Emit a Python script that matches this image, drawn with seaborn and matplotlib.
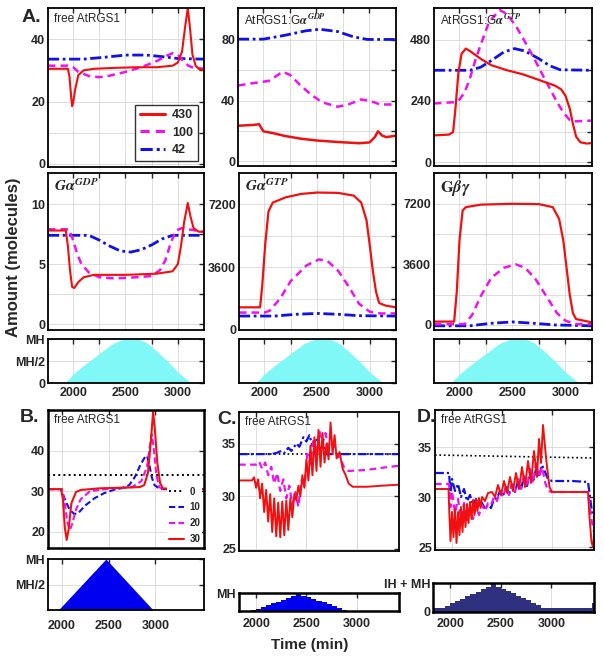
import matplotlib
matplotlib.use("Agg")
import matplotlib.pyplot as plt
import seaborn as sns
from matplotlib.lines import Line2D

sns.set_style("white")
plt.rcParams["font.family"] = ["Liberation Sans", "DejaVu Sans"]
plt.rcParams["font.weight"] = "bold"
plt.rcParams["mathtext.fontset"] = "stix"

# ----------------------------------------------------------
# data (time in min, amount in molecules)
# ----------------------------------------------------------
RED, MAG, BLUE = "#f01010", "#f010f0", "#1010e8"

# A. free AtRGS1
a_free_430 = [(1760, 30.5), (1950, 30.5), (1965, 28), (1980, 22), (1990, 18.5), (2000, 19.5),
              (2020, 24), (2050, 28.5), (2100, 30), (2200, 30.5), (2400, 30.8), (2600, 31),
              (2800, 31), (2950, 31.5), (3000, 32.5), (3040, 36), (3070, 44), (3095, 50),
              (3115, 44), (3140, 35), (3170, 31.5), (3200, 30.5), (3250, 30)]
a_free_100 = [(1760, 31.5), (1950, 31.5), (2000, 31), (2050, 29.5), (2150, 28.2), (2250, 27.8),
              (2350, 28.3), (2500, 29.5), (2650, 31), (2800, 33), (2900, 34.8), (2950, 35.5),
              (3000, 35), (3050, 33), (3100, 31.5), (3150, 30.8), (3250, 30.5)]
a_free_42 = [(1760, 33.6), (2100, 33.6), (2300, 34.2), (2500, 34.9), (2700, 34.9), (2850, 34.4),
             (3000, 33.8), (3250, 33.6)]

# A. AtRGS1:Ga-GDP
a_gdpc_430 = [(1760, 23.5), (1900, 24), (1960, 24.5), (1980, 22), (2000, 19.8), (2100, 18.5),
              (2200, 16.8), (2350, 15), (2500, 13.8), (2700, 12.8), (2900, 12), (3000, 12.5),
              (3050, 16), (3080, 19.8), (3120, 17), (3160, 16), (3250, 17)]
a_gdpc_100 = [(1760, 50), (1900, 51.5), (2050, 53), (2180, 59), (2250, 57), (2350, 50),
              (2450, 44), (2550, 39), (2700, 36), (2800, 37.5), (2920, 40.8), (3000, 40),
              (3100, 37.5), (3250, 37.5)]
a_gdpc_42 = [(1760, 80.5), (2000, 80.5), (2200, 83), (2400, 86), (2530, 87), (2700, 85.5),
             (2850, 82), (2980, 80.3), (3250, 80.3)]

# A. AtRGS1:Ga-GTP
a_gtpc_430 = [(1760, 105), (1900, 108), (1940, 118), (1960, 200), (1990, 350), (2020, 425),
              (2060, 445), (2100, 435), (2200, 405), (2300, 380), (2450, 360), (2600, 344),
              (2750, 322), (2900, 300), (2960, 285), (3000, 260), (3040, 210), (3070, 150),
              (3100, 100), (3140, 78), (3200, 73), (3250, 75)]
a_gtpc_100 = [(1760, 230), (1950, 235), (2000, 245), (2050, 275), (2100, 330), (2150, 400),
              (2200, 460), (2280, 550), (2380, 596), (2450, 580), (2540, 528), (2620, 470),
              (2700, 410), (2780, 345), (2850, 290), (2920, 235), (2980, 195), (3040, 165),
              (3100, 160), (3250, 163)]
a_gtpc_42 = [(1760, 360), (2100, 360), (2200, 372), (2300, 398), (2420, 432), (2520, 445),
             (2620, 435), (2750, 405), (2850, 378), (2950, 362), (3250, 360)]

# A. Ga-GDP
a_gdp_430 = [(1760, 7.8), (1930, 7.8), (1950, 6.5), (1970, 4.5), (1990, 3.1), (2010, 3.0),
             (2050, 3.5), (2100, 3.9), (2200, 4.1), (2500, 4.1), (2800, 4.2), (2950, 4.4),
             (3000, 5.0), (3030, 6.5), (3060, 8.5), (3095, 10.1), (3120, 9.0), (3150, 8.0),
             (3200, 7.7), (3250, 7.7)]
a_gdp_100 = [(1760, 7.9), (1960, 7.9), (2000, 7.0), (2040, 5.8), (2080, 5.0), (2150, 4.3),
             (2250, 3.9), (2400, 3.8), (2600, 3.9), (2750, 4.0), (2830, 4.5), (2880, 5.3),
             (2930, 6.7), (2980, 7.8), (3040, 8.0), (3100, 7.9), (3250, 7.7)]
a_gdp_42 = [(1760, 7.4), (2150, 7.4), (2250, 7.0), (2350, 6.5), (2450, 6.1), (2550, 6.0),
            (2650, 6.2), (2750, 6.6), (2850, 7.1), (2950, 7.4), (3250, 7.4)]

# A. Ga-GTP
a_gtp_430 = [(1760, 1300), (1960, 1300), (1980, 2500), (2010, 5000), (2040, 6800), (2080, 7300),
             (2200, 7600), (2350, 7800), (2500, 7880), (2700, 7860), (2850, 7700), (2920, 7300),
             (2970, 6300), (3000, 4900), (3030, 3400), (3060, 2200), (3090, 1550), (3150, 1400),
             (3250, 1300)]
a_gtp_100 = [(1760, 1000), (2000, 1000), (2050, 1100), (2150, 1800), (2250, 2800), (2400, 3700),
             (2520, 4050), (2600, 3950), (2700, 3400), (2800, 2500), (2900, 1500), (3000, 1050),
             (3100, 950), (3250, 950)]
a_gtp_42 = [(1760, 800), (2100, 800), (2300, 900), (2500, 950), (2700, 900), (2900, 820), (3250, 800)]

# A. Gbg
a_gbg_430 = [(1760, 200), (1950, 200), (1975, 2000), (2000, 5000), (2030, 6800), (2060, 7000),
             (2200, 7150), (2500, 7200), (2750, 7180), (2880, 7000), (2940, 6300), (2980, 5000),
             (3010, 3400), (3040, 1800), (3070, 700), (3100, 350), (3250, 150)]
a_gbg_100 = [(1760, 50), (2050, 50), (2120, 600), (2200, 1700), (2300, 2800), (2420, 3400),
             (2530, 3600), (2620, 3400), (2720, 2700), (2820, 1700), (2920, 700), (3000, 250),
             (3100, 50), (3250, 50)]
a_gbg_42 = [(1760, -50), (2100, -50), (2300, 100), (2500, 180), (2700, 100), (2900, 0), (3250, -50)]

# A. hormone input (fraction of MH)
a_input = [(1760, 0), (1920, 0), (2000, 0.2), (2100, 0.4), (2200, 0.58), (2300, 0.76),
           (2380, 0.9), (2450, 0.97), (2500, 1.0), (2620, 1.0), (2700, 0.92), (2800, 0.72),
           (2900, 0.5), (3000, 0.25), (3100, 0.05), (3130, 0), (3250, 0)]

# B. free AtRGS1, different ramp settings
b_0 = [(1850, 33.9), (3520, 33.9)]
b_10 = [(1850, 30.5), (1990, 30.5), (2030, 28), (2080, 25.5), (2130, 24.4), (2170, 24.5),
        (2250, 26.5), (2350, 28.3), (2450, 29.5), (2550, 30.3), (2650, 30.8), (2720, 31.5),
        (2780, 33.5), (2840, 36.5), (2890, 38.5), (2910, 38.7), (2935, 36.5), (2960, 33.5),
        (2990, 31.5), (3050, 30.5), (3520, 30.5)]
b_20 = [(1850, 30.5), (2000, 30.5), (2030, 27), (2060, 22), (2085, 20.5), (2110, 22),
        (2150, 25.5), (2200, 28), (2300, 30), (2500, 30.6), (2750, 31), (2850, 32.5),
        (2910, 36), (2940, 41), (2960, 44), (2980, 41), (3010, 34), (3040, 31), (3080, 30.5),
        (3520, 30.5)]
b_30 = [(1850, 30.5), (1990, 30.5), (2010, 28), (2030, 21), (2050, 18), (2070, 20.5),
        (2100, 27), (2150, 29.8), (2200, 30.3), (2400, 30.7), (2700, 30.9), (2830, 31.0),
        (2880, 31.5), (2920, 34.5), (2950, 42), (2975, 49.5), (2995, 45), (3020, 37),
        (3050, 32), (3080, 30.7), (3200, 30.5), (3520, 30.5)]
b_input = [(1850, 0), (1960, 0), (2470, 1.0), (2975, 0), (3500, 0), (3520, 0.04)]

# C. free AtRGS1, stepped input
c_0 = [(1830, 34.0), (3420, 34.0)]
c_10 = [(1830, 34), (2150, 34), (2200, 34.1), (2250, 34.3), (2280, 34.1), (2320, 34.6),
        (2350, 34.3), (2400, 35.0), (2430, 34.7), (2470, 35.6), (2500, 35.2), (2530, 35.8),
        (2560, 34.8), (2600, 35.5), (2630, 34.5), (2670, 34.8), (2700, 34.0), (3420, 34)]
c_20 = [(1830, 33.0), (2000, 33.0), (2030, 33.3), (2060, 32.6), (2090, 33.2), (2120, 32.0),
        (2150, 32.8), (2180, 31.2), (2210, 32.2), (2240, 30.5), (2270, 31.6), (2300, 29.8),
        (2330, 31.0), (2360, 29.2), (2390, 30.4), (2420, 29.0), (2450, 31.5), (2480, 31.0),
        (2510, 34.0), (2540, 33.0), (2570, 35.5), (2600, 34.2), (2630, 36.2), (2660, 35.0),
        (2690, 36.0), (2720, 34.5), (2760, 35.0), (2800, 34.0), (2840, 33.5), (2880, 32.6),
        (2920, 32.4), (3100, 32.5), (3250, 32.7), (3420, 32.9)]
c_30 = [(1830, 31.5), (1960, 31.5), (1980, 31.8), (2000, 30.8), (2020, 31.6), (2040, 29.8),
        (2060, 31.2), (2080, 28.5), (2100, 30.6), (2120, 27.6), (2140, 30.2), (2160, 26.6),
        (2180, 29.8), (2200, 26.2), (2220, 29.4), (2240, 26.1), (2260, 29.5), (2280, 26.3),
        (2300, 29.6), (2320, 26.8), (2340, 29.8), (2360, 28.0), (2380, 30.2), (2400, 29.6),
        (2420, 31.0), (2440, 30.0), (2460, 32.0), (2480, 30.8), (2500, 33.5), (2520, 31.5),
        (2540, 34.8), (2560, 32.0), (2580, 35.6), (2600, 32.4), (2620, 36.3), (2640, 32.8),
        (2660, 36.0), (2680, 33.2), (2700, 35.0), (2720, 33.5), (2740, 37.0), (2760, 34.0),
        (2780, 35.8), (2800, 33.6), (2830, 34.2), (2860, 32.6), (2890, 32.0), (2920, 31.2),
        (2960, 30.9), (3100, 30.9), (3250, 31.0), (3420, 31.1)]
c_input = [(1830, 0), (1900, 0), (1950, 0.05), (2000, 0.12), (2050, 0.22), (2100, 0.32),
           (2150, 0.42), (2200, 0.52), (2250, 0.62), (2300, 0.74), (2350, 0.84), (2400, 0.92),
           (2450, 0.84), (2500, 0.76), (2550, 0.68), (2600, 0.58), (2650, 0.48), (2700, 0.38),
           (2750, 0.28), (2800, 0.18), (2850, 0.08), (2900, 0), (3420, 0)]

# D. free AtRGS1, stepped input on top of IH
d_0 = [(1830, 34.2), (3420, 33.9)]
d_10 = [(1830, 32.4), (1970, 32.4), (1985, 30.5), (2000, 31.8), (2030, 30.6), (2060, 31.3),
        (2090, 30.0), (2120, 30.8), (2150, 29.6), (2180, 30.2), (2210, 29.2), (2240, 29.8),
        (2270, 29.0), (2300, 29.4), (2330, 28.8), (2360, 29.2), (2390, 28.9), (2420, 29.8),
        (2450, 29.9), (2480, 30.6), (2510, 30.1), (2540, 31.0), (2570, 30.3), (2600, 31.3),
        (2630, 30.5), (2660, 31.6), (2690, 30.8), (2720, 32.0), (2750, 31.1), (2780, 32.4),
        (2810, 31.5), (2840, 32.8), (2870, 32.0), (2900, 33.2), (2930, 32.5), (2960, 31.8),
        (3000, 31.6), (3200, 31.6), (3360, 31.5), (3380, 30.0), (3400, 28.5), (3420, 28.0)]
d_20 = [(1830, 31.3), (1970, 31.3), (1985, 29.0), (2000, 30.6), (2030, 28.4), (2060, 29.8),
        (2090, 27.8), (2120, 29.4), (2150, 27.6), (2180, 29.0), (2210, 27.8), (2240, 29.0),
        (2270, 28.2), (2300, 29.2), (2330, 28.6), (2360, 29.4), (2390, 29.2), (2420, 30.0),
        (2450, 29.6), (2480, 30.6), (2510, 30.0), (2540, 31.0), (2570, 30.2), (2600, 31.3),
        (2630, 30.5), (2660, 31.8), (2690, 30.8), (2720, 32.2), (2750, 31.0), (2780, 32.8),
        (2810, 31.4), (2840, 33.4), (2870, 32.0), (2900, 33.0), (2930, 31.5), (2960, 30.6),
        (3000, 30.5), (3360, 30.5), (3390, 28.0), (3420, 26.5)]
d_30 = [(1830, 30.8), (1965, 30.8), (1975, 28.0), (1985, 25.6), (2000, 28.5), (2015, 26.0),
        (2030, 28.8), (2045, 25.4), (2060, 28.5), (2075, 26.2), (2090, 29.0), (2105, 26.5),
        (2120, 29.2), (2135, 27.0), (2150, 29.3), (2165, 27.4), (2180, 29.5), (2195, 27.8),
        (2210, 29.7), (2225, 28.2), (2240, 29.8), (2255, 28.6), (2270, 29.9), (2285, 28.9),
        (2300, 30.0), (2330, 29.6), (2360, 30.4), (2400, 30.5), (2430, 30.0), (2460, 31.2),
        (2490, 30.2), (2520, 31.6), (2550, 30.4), (2580, 32.0), (2610, 30.6), (2640, 32.4),
        (2670, 30.8), (2700, 33.0), (2730, 31.0), (2760, 33.6), (2790, 31.4), (2820, 34.6),
        (2850, 32.0), (2870, 35.8), (2890, 33.4), (2910, 37.2), (2930, 35.0), (2950, 33.0),
        (2975, 31.0), (3000, 30.5), (3360, 30.5), (3375, 28.0), (3395, 25.5), (3410, 25.0),
        (3420, 26.0)]
d_input = [(1830, 0.13), (1900, 0.13), (1950, 0.22), (2000, 0.3), (2050, 0.38), (2100, 0.46),
           (2150, 0.54), (2200, 0.62), (2250, 0.7), (2300, 0.78), (2350, 0.86), (2400, 0.95),
           (2450, 0.87), (2500, 0.8), (2550, 0.72), (2600, 0.64), (2650, 0.56), (2700, 0.48),
           (2750, 0.4), (2800, 0.32), (2850, 0.24), (2900, 0.13), (3350, 0.13), (3400, 0.3),
           (3420, 0.3)]

A_LEGEND = ["430", "100", "42"]
B_LEGEND = ["0", "10", "20", "30"]

# ----------------------------------------------------------
# helpers
# ----------------------------------------------------------
W, H = 604, 661
DASH = (0, (3.0, 2.0))
DASHDOT = (0, (4.0, 1.3, 1.0, 1.3))


def unpack(pairs):
    return [p[0] for p in pairs], [p[1] for p in pairs]


def box(x0, y0, x1, y1):
    # pixel box (left, top, right, bottom) -> figure fraction rect
    return [x0 / W, 1 - y1 / H, (x1 - x0) / W, (y1 - y0) / H]


def line(ax, pairs, color, ls="-", lw=1.6):
    t, v = unpack(pairs)
    sns.lineplot(x=t, y=v, ax=ax, color=color, linestyle=ls, linewidth=lw,
                 estimator=None, sort=False)


def style(ax, xlim, ylim, yticks, ylabels, xticks, xlabels, spine=1.3, xpad=2):
    ax.set_xlim(*xlim)
    ax.set_ylim(*ylim)
    ax.set_xticks(xticks)
    ax.set_xticklabels(xlabels, fontsize=9, fontweight="bold")
    ax.set_yticks(yticks)
    ax.set_yticklabels(ylabels, fontsize=9, fontweight="bold")
    ax.grid(True, color="#d8d8d8", linewidth=0.6)
    ax.tick_params(direction="in", length=3.5, width=1, top=True, right=True, pad=2)
    ax.tick_params(axis="x", pad=xpad)
    for s in ax.spines.values():
        s.set_linewidth(spine)
        s.set_color("black")
    ax.set_xlabel("")
    ax.set_ylabel("")


def title(ax, txt, size=8.5, family=None):
    ax.text(0.04, 0.97, txt, transform=ax.transAxes, ha="left", va="top",
            fontsize=size, fontweight="normal",
            family=family or ["Liberation Sans Narrow", "Liberation Sans"])


AX = (1760, 3250)
ATX = [2000, 2250, 2500, 2750, 3000]
ATL_OFF = ["", "", "", "", ""]
ATL_ON = ["2000", "", "2500", "", "3000"]

fig = plt.figure(figsize=(W / 100, H / 100), dpi=100)

# ---------------- row A, top ----------------
mid_cols = [(48, 204), (239, 396), (434, 592)]

ax = fig.add_axes(box(48, 8, 204, 167))
line(ax, a_free_42, BLUE, DASHDOT, 2.0)
line(ax, a_free_100, MAG, DASH, 1.8)
line(ax, a_free_430, RED, "-", 1.5)
style(ax, AX, (-1, 50), [0, 10, 20, 30, 40], ["0", "", "20", "", "40"], ATX, ATL_OFF)
title(ax, "free AtRGS1")
handles = [Line2D([], [], color=RED, lw=2.2),
           Line2D([], [], color=MAG, lw=2.2, ls=DASH),
           Line2D([], [], color=BLUE, lw=2.2, ls=DASHDOT)]
leg = ax.legend(handles, A_LEGEND, loc="lower right", frameon=True, fancybox=False,
                edgecolor="black", prop={"size": 9, "weight": "bold"}, handlelength=2.0,
                borderpad=0.35, labelspacing=0.45, borderaxespad=0.5, handletextpad=0.6)
leg.get_frame().set_linewidth(1.0)

ax = fig.add_axes(box(238, 8, 396, 166))
line(ax, a_gdpc_42, BLUE, DASHDOT, 2.0)
line(ax, a_gdpc_100, MAG, DASH, 1.8)
line(ax, a_gdpc_430, RED, "-", 1.8)
style(ax, AX, (-3, 101), [0, 20, 40, 60, 80], ["0", "", "40", "", "80"], ATX, ATL_OFF)
title(ax, r"AtRGS1:G$\alpha^{GDP}$")

ax = fig.add_axes(box(434, 8, 592, 166))
line(ax, a_gtpc_42, BLUE, DASHDOT, 2.0)
line(ax, a_gtpc_100, MAG, DASH, 1.8)
line(ax, a_gtpc_430, RED, "-", 1.6)
style(ax, AX, (-15, 604), [0, 120, 240, 360, 480], ["0", "", "240", "", "480"], ATX, ATL_OFF)
title(ax, r"AtRGS1:G$\alpha^{GTP}$")

# ---------------- row A, middle ----------------
ax = fig.add_axes(box(48, 173, 204, 330))
line(ax, a_gdp_42, BLUE, DASHDOT, 2.0)
line(ax, a_gdp_100, MAG, DASH, 1.8)
line(ax, a_gdp_430, RED, "-", 1.5)
style(ax, AX, (-0.5, 12.6), [0, 2.5, 5, 7.5, 10], ["0", "", "5", "", "10"], ATX, ATL_OFF)
title(ax, r"$G\alpha^{GDP}$", size=11)

ax = fig.add_axes(box(239, 173, 396, 330))
line(ax, a_gtp_42, BLUE, DASHDOT, 2.0)
line(ax, a_gtp_100, MAG, DASH, 1.8)
line(ax, a_gtp_430, RED, "-", 1.6)
style(ax, AX, (0, 9000), [0, 1800, 3600, 5400, 7200], ["0", "", "3600", "", "7200"], ATX, ATL_OFF)
title(ax, r"$G\alpha^{GTP}$", size=11)

ax = fig.add_axes(box(434, 173, 592, 330))
line(ax, a_gbg_42, BLUE, DASHDOT, 2.0)
line(ax, a_gbg_100, MAG, DASH, 1.8)
line(ax, a_gbg_430, RED, "-", 1.6)
style(ax, AX, (-300, 9030), [0, 1800, 3600, 5400, 7200], ["0", "", "3600", "", "7200"], ATX, ATL_OFF)
title(ax, r"$\mathrm{G}\beta\gamma$", size=12)

# ---------------- row A, input strips ----------------
for i, (x0, x1) in enumerate(mid_cols):
    ax = fig.add_axes(box(x0, 339, x1, 383))
    t, v = unpack(a_input)
    ax.fill_between(t, 0, v, color="#80f8f8", linewidth=0)
    labels = ["0", "MH/2", "MH"] if i == 0 else ["", "", ""]
    style(ax, AX, (0, 1.0), [0, 0.5, 1.0], labels, ATX, ATL_ON, xpad=3)

# ---------------- B ----------------
BX = (1850, 3520)
ax = fig.add_axes(box(48, 410, 204, 548))
line(ax, b_0, "black", ":", 1.4)
line(ax, b_10, BLUE, (0, (3.0, 1.5)), 1.5)
line(ax, b_20, MAG, (0, (3.0, 1.5)), 1.5)
line(ax, b_30, RED, "-", 1.5)
style(ax, BX, (16, 50), [20, 30, 40], ["20", "30", "40"], [2000, 2500, 3000], ["", "", ""], spine=1.8)
title(ax, "free AtRGS1")
handles = [Line2D([], [], color="black", lw=1.4, ls=":"),
           Line2D([], [], color=BLUE, lw=1.5, ls=(0, (3.0, 1.5))),
           Line2D([], [], color=MAG, lw=1.5, ls=(0, (3.0, 1.5))),
           Line2D([], [], color=RED, lw=1.5)]
leg = ax.legend(handles, B_LEGEND, loc="lower right", frameon=True, facecolor="white",
                edgecolor="none", framealpha=1, prop={"size": 7, "weight": "bold"},
                handlelength=1.6, borderpad=0.2, labelspacing=0.6, borderaxespad=0.2,
                handletextpad=0.5)

ax = fig.add_axes(box(48, 559, 204, 610))
t, v = unpack(b_input)
ax.fill_between(t, 0, v, color="#0000f0", linewidth=0)
style(ax, BX, (0, 1.0), [0.5, 1.0], ["MH/2", "MH"], [2000, 2500, 3000], ["2000", "2500", "3000"], xpad=7)

# ---------------- C ----------------
CX = (1830, 3420)
ax = fig.add_axes(box(239, 412, 399, 551))
line(ax, c_0, "black", ":", 1.2)
line(ax, c_10, BLUE, DASHDOT, 1.6)
line(ax, c_20, MAG, DASH, 1.6)
line(ax, c_30, RED, "-", 1.4)
style(ax, CX, (24.8, 38), [25, 30, 35], ["25", "30", "35"], [2000, 2500, 3000], ["", "", ""])
title(ax, "free AtRGS1")

ax = fig.add_axes(box(239, 593, 399, 611))
t, v = unpack(c_input)
ax.fill_between(t, 0, v, step="post", color="#0000f0", linewidth=0)
style(ax, CX, (0, 1.0), [1.0], ["MH"], [2000, 2500, 3000], ["2000", "2500", "3000"], spine=1.8, xpad=5)

# ---------------- D ----------------
ax = fig.add_axes(box(435, 410, 594, 550))
line(ax, d_0, "black", ":", 1.2)
line(ax, d_10, BLUE, DASHDOT, 1.6)
line(ax, d_20, MAG, DASH, 1.6)
line(ax, d_30, RED, "-", 1.4)
style(ax, CX, (24.7, 38.7), [25, 30, 35], ["25", "30", "35"], [2000, 2500, 3000], ["", "", ""])
title(ax, "free AtRGS1")

ax = fig.add_axes(box(433, 583, 594, 612))
t, v = unpack(d_input)
ax.fill_between(t, 0, v, step="post", color="#303080", linewidth=0)
style(ax, CX, (0, 1.0), [0, 1.0], ["0", "IH + MH"], [2000, 2500, 3000], ["2000", "2500", "3000"],
      spine=1.8, xpad=4)

# ---------------- figure labels ----------------
fig.text(22 / W, 1 - 18 / H, "A.", fontsize=14, fontweight="bold", va="center")
fig.text(20 / W, 1 - 418 / H, "B.", fontsize=14, fontweight="bold", va="center")
fig.text(217 / W, 1 - 420 / H, "C.", fontsize=14, fontweight="bold", va="center")
fig.text(417 / W, 1 - 418 / H, "D.", fontsize=14, fontweight="bold", va="center")
fig.text(14 / W, 1 - 257 / H, "Amount (molecules)", rotation=90, fontsize=12,
         fontweight="bold", ha="center", va="center")
fig.text(310 / W, 1 - 645 / H, "Time (min)", fontsize=11, fontweight="bold",
         ha="center", va="center")

fig.savefig("out.png", dpi=100)
